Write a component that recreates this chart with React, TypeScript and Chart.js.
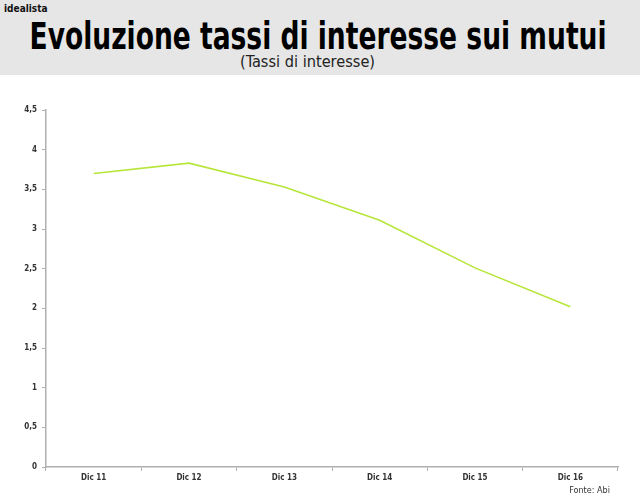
import React, { useEffect, useRef } from "react";
import { Chart, registerables } from "chart.js";

Chart.register(...registerables);

const categories = ["Dic 11", "Dic 12", "Dic 13", "Dic 14", "Dic 15", "Dic 16"];
const rates = [3.7, 3.83, 3.53, 3.11, 2.51, 2.02];
const yTicks = [0, 0.5, 1, 1.5, 2, 2.5, 3, 3.5, 4, 4.5];

const fmt = (v: number) => String(v).replace(".", ",");

const TITLE_FONT = "bold 37px 'DejaVu Sans Condensed', 'DejaVu Sans', sans-serif";
const SUB_FONT = "15px 'DejaVu Sans Condensed', 'DejaVu Sans', sans-serif";

export default function App() {
  const ref = useRef<HTMLCanvasElement | null>(null);
  const titleRef = useRef<HTMLDivElement | null>(null);
  const subRef = useRef<HTMLDivElement | null>(null);

  useEffect(() => {
    document.body.style.margin = "0";
    const fit = () => {
      if (titleRef.current) {
        const w = titleRef.current.offsetWidth;
        if (w > 0) titleRef.current.style.transform = `scaleX(${577 / w})`;
      }
      if (subRef.current) {
        const w = subRef.current.offsetWidth;
        if (w > 0) subRef.current.style.transform = `scaleX(${135 / w})`;
      }
    };
    fit();
    if ((document as any).fonts && (document as any).fonts.ready) {
      (document as any).fonts.ready.then(fit);
    }
    if (!ref.current) return;
    const chart = new Chart(ref.current, {
      type: "line",
      data: {
        labels: categories,
        datasets: [
          {
            data: rates,
            borderColor: "#b6e63a",
            borderWidth: 1.6,
            pointRadius: 0,
            tension: 0,
            fill: false,
          },
        ],
      },
      options: {
        animation: false,
        responsive: false,
        maintainAspectRatio: false,
        layout: { padding: { top: 110, right: 22, left: 0, bottom: 0 } },
        plugins: { legend: { display: false }, tooltip: { enabled: false } },
        scales: {
          x: {
            offset: true,
            grid: {
              offset: true,
              drawOnChartArea: false,
              drawTicks: true,
              tickLength: 4,
              color: "#b0b0b0",
            },
            border: { color: "#b0b0b0", width: 1.5 },
            ticks: {
              color: "#333",
              font: { family: "DejaVu Sans Condensed", size: 8, weight: "bold" },
              padding: 2,
              maxRotation: 0,
            },
            afterFit: (s: any) => {
              s.height = 35;
            },
          },
          y: {
            min: 0,
            max: 4.5,
            afterBuildTicks: (s: any) => {
              s.ticks = yTicks.map((v) => ({ value: v }));
            },
            grid: {
              drawOnChartArea: false,
              drawTicks: true,
              tickLength: 4,
              color: "#b0b0b0",
            },
            border: { color: "#b0b0b0", width: 1.5 },
            ticks: {
              color: "#333",
              font: { family: "DejaVu Sans Condensed", size: 8, weight: "bold" },
              padding: 5,
              callback: (v: any) => fmt(Number(v)),
            },
            afterFit: (s: any) => {
              s.width = 46;
            },
          },
        },
      },
    });
    return () => chart.destroy();
  }, []);

  return (
    <div style={{ position: "relative", width: 640, height: 502, background: "#fff", overflow: "hidden" }}>
      <div
        style={{
          position: "absolute",
          left: 0,
          top: 0,
          width: 640,
          height: 75,
          background: "#e6e6e6",
        }}
      />
      <div
        style={{
          position: "absolute",
          left: 4,
          top: 3,
          fontFamily: "'DejaVu Sans Condensed', sans-serif",
          fontWeight: "bold",
          fontSize: 10,
          color: "#111",
        }}
      >
        idealista
      </div>
      <div
        style={{
          position: "absolute",
          left: 0,
          top: 15,
          width: 637,
          height: 44,
          display: "flex",
          justifyContent: "center",
          whiteSpace: "nowrap",
          color: "#000",
        }}
      >
        <div ref={titleRef} style={{ flexShrink: 0, font: TITLE_FONT, lineHeight: "44px", transformOrigin: "center" }}>
          Evoluzione tassi di interesse sui mutui
        </div>
      </div>
      <div
        style={{
          position: "absolute",
          left: 0,
          top: 53,
          width: 615,
          display: "flex",
          justifyContent: "center",
          whiteSpace: "nowrap",
          color: "#222",
        }}
      >
        <div ref={subRef} style={{ flexShrink: 0, font: SUB_FONT, transformOrigin: "center" }}>
          (Tassi di interesse)
        </div>
      </div>
      <canvas ref={ref} width={640} height={502} style={{ position: "absolute", left: 0, top: 0, display: "block" }} />
      <div
        style={{
          position: "absolute",
          right: 30,
          top: 485,
          fontFamily: "'DejaVu Sans Condensed', sans-serif",
          fontSize: 9,
          color: "#333",
        }}
      >
        Fonte: Abi
      </div>
    </div>
  );
}
